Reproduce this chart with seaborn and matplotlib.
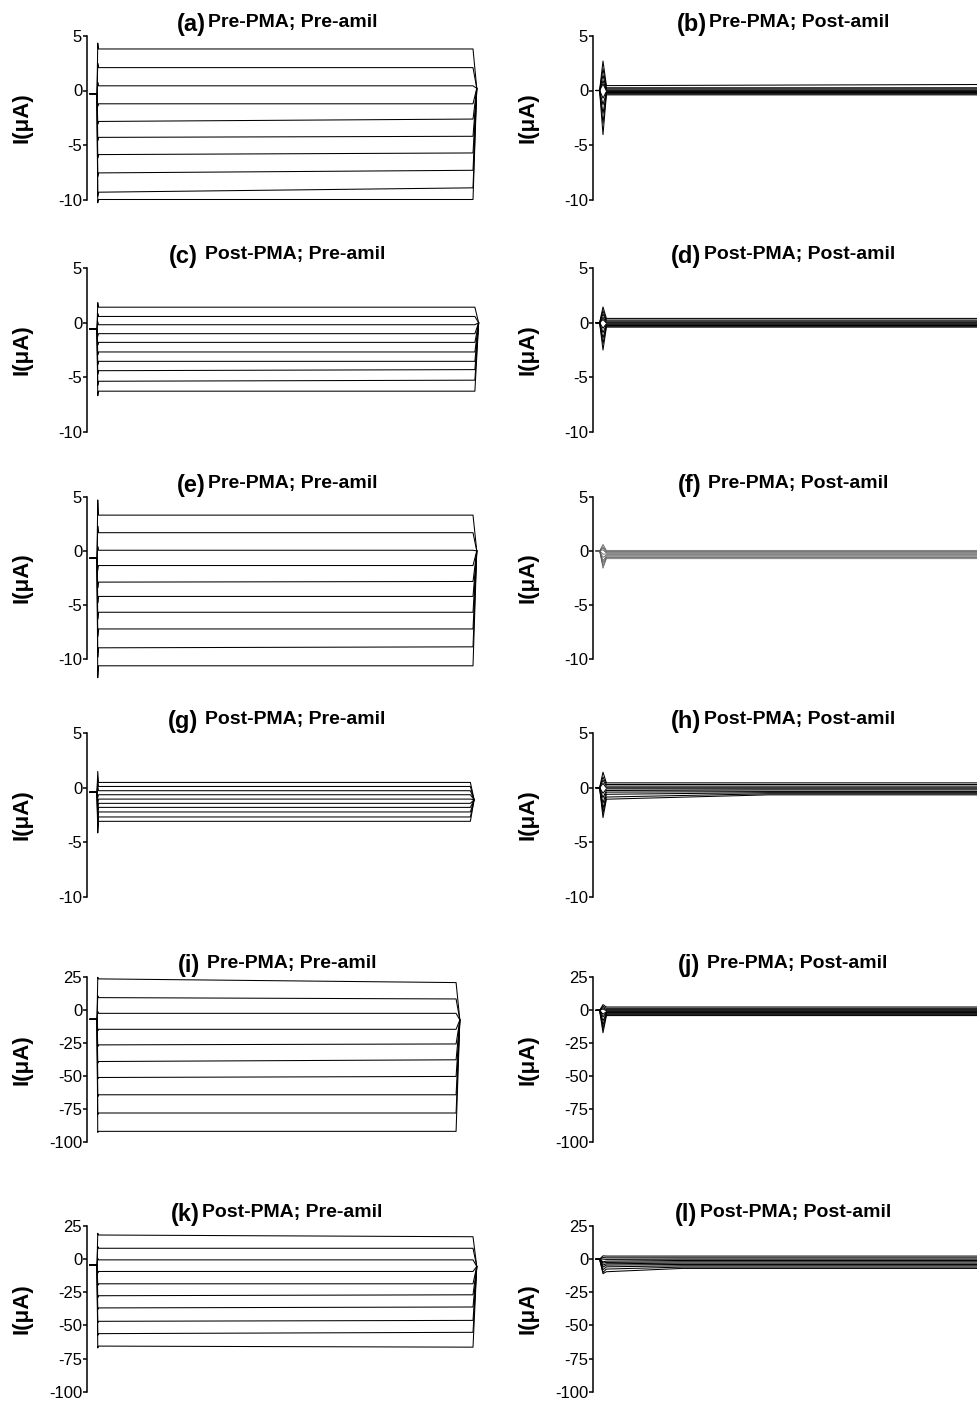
import numpy as np
import pandas as pd
import matplotlib
matplotlib.use("Agg")
import matplotlib.pyplot as plt
import seaborn as sns

# ---------------- data ----------------
# time points of the voltage-clamp protocol (ms)
T_HOLD = -19.0      # start of holding segment
T_ON = 0.0          # step onset

PANEL_LETTERS = ["a", "b", "c", "d", "e", "f", "g", "h", "i", "j", "k", "l"]
PANEL_TITLES = ["Pre-PMA; Pre-amil", "Pre-PMA; Post-amil",
                "Post-PMA; Pre-amil", "Post-PMA; Post-amil",
                "Pre-PMA; Pre-amil", "Pre-PMA; Post-amil",
                "Post-PMA; Pre-amil", "Post-PMA; Post-amil",
                "Pre-PMA; Pre-amil", "Pre-PMA; Post-amil",
                "Post-PMA; Pre-amil", "Post-PMA; Post-amil"]
TITLE_SPACED = [False, False, True, False, False, True,
                True, False, True, True, False, False]

YTICKS_SMALL = [5, 0, -5, -10]
YTICKS_LARGE = [25, 0, -25, -50, -75, -100]

# steady-state current at start / end of each step (uA), capacitive peak,
# holding current, tail current, step end time (ms)
A_START = [3.81, 2.10, 0.43, -1.22, -2.84, -4.30, -5.88, -7.56, -9.33, -10.0]
A_END = [3.81, 2.10, 0.43, -1.22, -2.62, -4.20, -5.73, -7.32, -8.93, -10.0]
A_PEAK = [4.35, 2.50, 0.75, -1.45, -3.10, -4.60, -6.20, -7.90, -9.70, -10.3]
A_HOLD, A_TAIL, A_TEND = -0.3, 0.2, 1000

B_START = [0.45, 0.25, 0.15, 0.05, -0.02, -0.10, -0.18, -0.25, -0.32, -0.40]
B_END = [0.55, 0.25, 0.15, 0.05, -0.02, -0.10, -0.18, -0.25, -0.32, -0.40]
B_PEAK = [2.70, 2.00, 1.40, 0.90, 0.60, -0.70, -1.30, -2.10, -3.00, -4.05]
B_HOLD, B_TAIL, B_TEND = 0.0, 0.0, 1000

C_START = [1.43, 0.58, -0.18, -1.00, -1.80, -2.68, -3.54, -4.40, -5.37, -6.28]
C_END = [1.43, 0.58, -0.18, -1.00, -1.80, -2.68, -3.54, -4.30, -5.27, -6.28]
C_PEAK = [1.85, 0.85, 0.10, -1.25, -2.05, -2.95, -3.85, -4.75, -5.75, -6.70]
C_HOLD, C_TAIL, C_TEND = -0.58, 0.0, 1005

D_START = [0.40, 0.25, 0.15, 0.05, -0.02, -0.10, -0.18, -0.25, -0.32, -0.40]
D_END = [0.40, 0.25, 0.15, 0.05, -0.02, -0.10, -0.18, -0.25, -0.32, -0.40]
D_PEAK = [1.45, 1.10, 0.80, 0.50, 0.30, -0.50, -0.90, -1.40, -1.90, -2.50]
D_HOLD, D_TAIL, D_TEND = 0.0, 0.0, 1000

E_START = [3.30, 1.68, 0.06, -1.35, -2.88, -4.20, -5.66, -7.20, -8.94, -10.6]
E_END = [3.30, 1.68, 0.06, -1.35, -2.82, -4.20, -5.66, -7.20, -8.85, -10.6]
E_PEAK = [4.70, 2.30, 0.40, -1.80, -3.40, -4.80, -6.30, -7.90, -9.80, -11.7]
E_HOLD, E_TAIL, E_TEND = -0.67, 0.0, 1000

F_START = [0.05, -0.05, -0.12, -0.20, -0.28, -0.36, -0.45, -0.55, -0.62, -0.72]
F_END = [0.05, -0.05, -0.12, -0.20, -0.28, -0.36, -0.45, -0.55, -0.62, -0.72]
F_PEAK = [0.60, 0.40, 0.25, 0.10, -0.30, -0.60, -0.90, -1.10, -1.35, -1.60]
F_HOLD, F_TAIL, F_TEND = 0.0, 0.0, 1000

G_START = [0.49, 0.12, -0.27, -0.64, -1.04, -1.43, -1.80, -2.22, -2.68, -3.08]
G_END = [0.49, 0.12, -0.27, -0.64, -1.04, -1.43, -1.80, -2.22, -2.68, -3.08]
G_PEAK = [1.50, 0.80, 0.20, -0.90, -1.50, -2.00, -2.60, -3.10, -3.60, -4.15]
G_HOLD, G_TAIL, G_TEND = -0.4, -1.1, 993

H_START = [0.45, 0.30, 0.15, 0.00, -0.10, -0.25, -0.40, -0.60, -0.85, -1.05]
H_END = [0.45, 0.30, 0.15, 0.00, -0.10, -0.20, -0.35, -0.45, -0.55, -0.65]
H_PEAK = [1.43, 1.00, 0.70, 0.40, -0.50, -0.90, -1.40, -1.90, -2.30, -2.74]
H_HOLD, H_TAIL, H_TEND = 0.0, 0.0, 1000

I_START = [23.8, 9.6, -2.3, -14.4, -26.2, -38.8, -50.9, -64.0, -77.8, -91.7]
I_END = [21.0, 8.6, -2.3, -14.4, -25.5, -37.5, -50.1, -64.0, -77.8, -91.7]
I_PEAK = [25.0, 11.0, -1.0, -15.5, -27.5, -40.0, -52.0, -65.5, -79.0, -92.5]
I_HOLD, I_TAIL, I_TEND = -6.8, -7.3, 955

J_START = [2.5, 1.5, 0.5, -0.3, -1.0, -1.6, -2.2, -2.8, -3.4, -4.0]
J_END = [2.5, 1.5, 0.5, -0.3, -1.0, -1.6, -2.2, -2.8, -3.4, -4.0]
J_PEAK = [4.3, 3.0, 2.0, 1.0, -3.0, -5.0, -8.0, -11.0, -14.0, -17.0]
J_HOLD, J_TAIL, J_TEND = 0.0, 0.0, 1000

K_START = [18.2, 8.2, -0.55, -9.3, -18.6, -27.6, -36.8, -46.9, -56.2, -65.6]
K_END = [16.9, 8.2, -0.55, -9.3, -18.6, -26.9, -36.1, -46.2, -55.2, -66.4]
K_PEAK = [19.5, 9.5, 0.5, -10.5, -19.8, -29.0, -38.0, -48.0, -57.5, -67.0]
K_HOLD, K_TAIL, K_TEND = -4.4, -5.5, 1000

L_START = [2.3, 1.0, -0.2, -1.5, -2.5, -3.5, -4.5, -5.8, -7.5, -9.5]
L_END = [2.3, 1.0, 0.0, -1.0, -2.0, -3.0, -4.0, -5.0, -6.0, -7.0]
L_PEAK = [2.5, 1.2, 0.0, -2.0, -3.0, -4.5, -6.0, -8.0, -10.0, -11.0]
L_HOLD, L_TAIL, L_TEND = 0.0, 0.0, 1000

# relaxation time (ms) after which the steady level is reached
RELAX = {"h": 440, "l": 210}

PANELS = {
    "a": (A_START, A_END, A_PEAK, A_HOLD, A_TAIL, A_TEND),
    "b": (B_START, B_END, B_PEAK, B_HOLD, B_TAIL, B_TEND),
    "c": (C_START, C_END, C_PEAK, C_HOLD, C_TAIL, C_TEND),
    "d": (D_START, D_END, D_PEAK, D_HOLD, D_TAIL, D_TEND),
    "e": (E_START, E_END, E_PEAK, E_HOLD, E_TAIL, E_TEND),
    "f": (F_START, F_END, F_PEAK, F_HOLD, F_TAIL, F_TEND),
    "g": (G_START, G_END, G_PEAK, G_HOLD, G_TAIL, G_TEND),
    "h": (H_START, H_END, H_PEAK, H_HOLD, H_TAIL, H_TEND),
    "i": (I_START, I_END, I_PEAK, I_HOLD, I_TAIL, I_TEND),
    "j": (J_START, J_END, J_PEAK, J_HOLD, J_TAIL, J_TEND),
    "k": (K_START, K_END, K_PEAK, K_HOLD, K_TAIL, K_TEND),
    "l": (L_START, L_END, L_PEAK, L_HOLD, L_TAIL, L_TEND),
}


def traces_frame(letter, right_col):
    start, end, peak, hold, tail, tend = PANELS[letter]
    w = 9.0 if right_col else 2.0          # transient half-width (ms)
    rows = []
    for k, (s, e, p) in enumerate(zip(start, end, peak)):
        if right_col:
            ts = [T_HOLD, T_ON - w, T_ON, T_ON + w]
            ys = [hold, hold, p, s]
        else:
            ts = [T_HOLD, T_ON, T_ON + w, T_ON + 2 * w]
            ys = [hold, hold, p, s]
        if letter in RELAX:
            ts.append(RELAX[letter]); ys.append(e)
        ts += [tend, tend + 10]
        ys += [e, tail]
        for t, y in zip(ts, ys):
            rows.append({"t": t, "I": y, "sweep": k})
    return pd.DataFrame(rows)


# ---------------- figure ----------------
sns.set_style("ticks")
plt.rcParams["font.family"] = ["Liberation Sans", "DejaVu Sans"]
plt.rcParams["text.color"] = "black"
plt.rcParams["axes.labelcolor"] = "black"
plt.rcParams["ytick.color"] = "black"
plt.rcParams["axes.edgecolor"] = "black"

W, H = 977, 1402
fig = plt.figure(figsize=(W / 100, H / 100), dpi=100)

ROWS = [(36, 199.5), (268.3, 431.7), (496.7, 659.3),
        (733.3, 896.7), (977.3, 1142.3), (1226, 1391.7)]
COLS = [87, 593]
AX_W = 424
PX_PER_MS = 0.376
ON_PX = 10  # onset px from spine
X_LEFT = -ON_PX / PX_PER_MS
X_RIGHT = X_LEFT + AX_W / PX_PER_MS

axes = []
for idx, letter in enumerate(PANEL_LETTERS):
    r, c = divmod(idx, 2)
    top, bot = ROWS[r]
    x0 = COLS[c]
    ax = fig.add_axes([x0 / W, 1 - bot / H, AX_W / W, (bot - top) / H])
    df = traces_frame(letter, c == 1)
    color = "0.35" if letter == "f" else "black"
    lw = 0.55 if letter == "f" else 0.75
    sns.lineplot(data=df, x="t", y="I", units="sweep", estimator=None,
                 sort=False, color=color, lw=lw, ax=ax, clip_on=False,
                 legend=False)
    ticks = YTICKS_LARGE if r >= 4 else YTICKS_SMALL
    ax.set_ylim(min(ticks), max(ticks))
    ax.set_yticks(ticks)
    ax.set_yticklabels([str(t) for t in ticks])
    ax.set_xlim(X_LEFT, X_RIGHT)
    ax.set_xticks([])
    ax.set_xlabel("")
    for s in ["top", "right", "bottom"]:
        ax.spines[s].set_visible(False)
    ax.spines["left"].set_linewidth(1.1)
    ax.spines["left"].set_color("black")
    ax.tick_params(axis="y", direction="out", length=3.0, width=1.1,
                   labelsize=12, pad=0.5, colors="black")
    ax.set_ylabel("I(μA)", fontsize=16, fontweight="bold", color="black")
    ax.yaxis.set_label_coords(-54 / AX_W, 0.5)
    ax.set_facecolor("none")
    axes.append((ax, letter, idx))

fig.canvas.draw()
renderer = fig.canvas.get_renderer()
for ax, letter, idx in axes:
    r, c = divmod(idx, 2)
    top, bot = ROWS[r]
    center_px = COLS[c] + 190
    gap = 7 if TITLE_SPACED[idx] else 2
    t1 = fig.text(0, 0, f"({letter})", fontsize=17, fontweight="bold",
                  color="black")
    t2 = fig.text(0, 0, PANEL_TITLES[idx], fontsize=14, fontweight="bold",
                  color="black")
    w1 = t1.get_window_extent(renderer).width
    w2 = t2.get_window_extent(renderer).width
    total = w1 + gap + w2
    left = center_px - total / 2
    t1.set_position((left / W, 1 - (top - 5) / H))
    t1.set_va("baseline")
    t2.set_position(((left + w1 + gap) / W, 1 - (top - 9) / H))
    t2.set_va("baseline")

fig.savefig("out.png", dpi=100)
